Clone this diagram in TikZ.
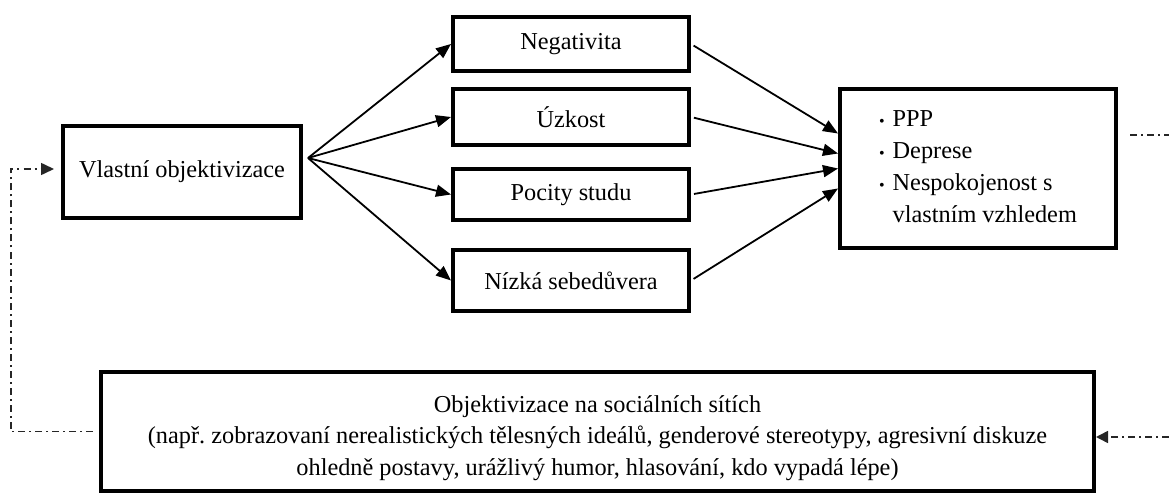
\documentclass[tikz,border=0pt]{standalone}
\usepackage{fontspec}
\setmainfont{Liberation Serif}
\usetikzlibrary{arrows.meta,calc}
\newcommand{\smallbul}{{\fontsize{16}{16}\selectfont\textbullet}}
\frenchspacing
\begin{document}
\begin{tikzpicture}[x=1pt,y=-1pt,
 box/.style={draw,line width=4pt,inner sep=0pt,align=center,font=\fontsize{24.3}{32}\selectfont},
 arr/.style={line width=1.8pt,-{Triangle[length=15pt,width=12pt]}},
 dd/.style={line width=1.6pt,black!85,dash pattern=on 7pt off 4pt on 2pt off 4pt}]
\useasboundingbox (0,0) rectangle (1169,494);
\node[box,minimum width=238pt,minimum height=92pt] (vl) at (182,172) {Vlastní objektivizace};
\node[box,minimum width=236pt,minimum height=54pt] (neg) at (571,44) {Negativita};
\node[box,minimum width=236pt,minimum height=56pt] (uz) at (571,117) {Úzkost};
\node[box,minimum width=236pt,minimum height=51pt] (poc) at (571,194.5) {Pocity studu};
\node[box,minimum width=236pt,minimum height=61pt] (niz) at (571,280.5) {Nízká sebedůvera};
\node[box,minimum width=276pt,minimum height=159pt] (rb) at (978,168.5)
 {\begin{tabular}{@{}l@{\hspace{8pt}}l@{}}
  \smallbul & PPP\\
  \smallbul & Deprese\\
  \smallbul & Nespokojenost s\\
  & vlastním vzhledem
  \end{tabular}};
\node[box,minimum width=993pt,minimum height=119pt,font=\fontsize{24.3}{31.5}\selectfont] (bot) at (597.5,431.5)
 {\raisebox{-6pt}[\height][\depth]{\begin{tabular}{@{}c@{}}Objektivizace na sociálních sítích\\
  (např. zobrazovaní nerealistických tělesných ideálů, genderové stereotypy, agresivní diskuze\\
  ohledně postavy, urážlivý humor, hlasování, kdo vypadá lépe)\end{tabular}}};
\coordinate (src) at ($(vl.east)+(5,-14)$);
\foreach \n in {neg,uz,poc,niz} \draw[arr] (src) -- (\n.west);
\draw[arr,shorten <=3pt] (neg.east) -- ($(rb.west)+(0,-35)$);
\draw[arr,shorten <=3pt] (uz.east) -- ($(rb.west)+(0,-15)$);
\draw[arr,shorten <=3pt] (poc.east) -- ($(rb.west)+(0,0)$);
\draw[arr,shorten <=3pt] (niz.east) -- ($(rb.west)+(0,20)$);
\coordinate (lc) at (11,300);
\draw[dd,shorten <=6pt,shorten >=7pt,-{Triangle[length=13pt,width=12pt]}] (bot.west) -| (lc) |- ($(vl.west)+(0,-3)$);
\coordinate (re1) at (1169,135);
\draw[dd,shorten <=12pt] (re1 -| rb.east) -- (re1);
\coordinate (re2) at (1169,437);
\draw[dd,-{Triangle[length=12pt,width=12pt]}] (re2) -- (re2 -| bot.east);
\end{tikzpicture}
\end{document}
